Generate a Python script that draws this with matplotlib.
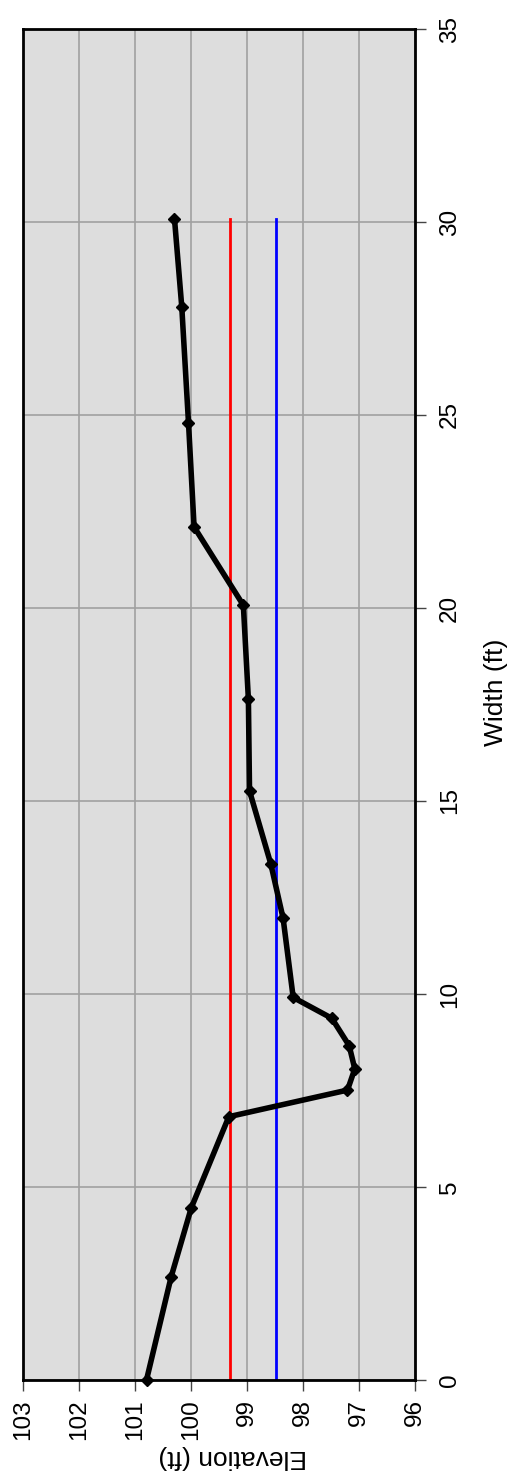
import numpy as np
import matplotlib.pyplot as plt

plt.rcParams['font.family'] = ['Liberation Sans', 'DejaVu Sans']

# cross section survey (chart is drawn turned on its side)
width = [0.0, 2.67, 4.46, 6.82, 7.51, 8.06, 8.66, 9.37, 9.91, 11.96, 13.37,
         15.26, 17.63, 20.07, 22.1, 24.8, 27.8, 30.08]
elev = [100.80, 100.36, 100.0, 99.33, 97.21, 97.08, 97.18, 97.49, 98.18,
        98.36, 98.58, 98.96, 98.98, 99.07, 99.95, 100.05, 100.17, 100.30]

red_level = 99.31
blue_level = 98.49
level_width = [0.0, 30.08]

fig = plt.figure(figsize=(5.15, 14.8), dpi=100)
ax = fig.add_axes([0.0453, 0.0676, 0.761, 0.9128])
ax.set_facecolor('#dddddd')

ax.plot([red_level, red_level], level_width, color='#ff0000', lw=2, zorder=2)
ax.plot([blue_level, blue_level], level_width, color='#0000ff', lw=2, zorder=2)
ax.plot(elev, width, color='black', lw=4, marker='D', ms=6,
        zorder=3, clip_on=False)

ax.set_xlim(103, 96)
ax.set_ylim(0, 35)
ax.set_xticks(np.arange(96, 104, 1))
ax.set_yticks(np.arange(0, 40, 5))
ax.grid(True, color='#a0a0a0', lw=1.2, zorder=1)
ax.set_axisbelow(True)

ax.yaxis.tick_right()
ax.yaxis.set_label_position('right')
ax.tick_params(axis='both', labelsize=17.5, length=8, width=1, color='#444444',
               direction='out', labelrotation=90, pad=6)
ax.tick_params(axis='y', pad=9)
for lab in ax.get_yticklabels():
    lab.set_va('center')

for s in ax.spines.values():
    s.set_linewidth(2)
    s.set_color('black')

ax.set_xlabel('Elevation (ft)', fontsize=19, rotation=180)
ax.set_ylabel('Width (ft)', fontsize=19, rotation=90)
ax.xaxis.set_label_coords(0.535, -0.048)
ax.yaxis.set_label_coords(1.175, 0.509)

fig.savefig('out.png', dpi=100)
